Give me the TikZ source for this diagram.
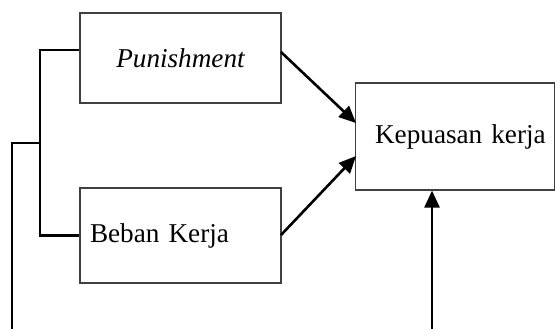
\documentclass[tikz,border=0pt]{standalone}
\usepackage{fontspec}
\setmainfont{Liberation Serif}
\usetikzlibrary{arrows.meta,calc}
\begin{document}
\begin{tikzpicture}[x=0.5pt,y=-0.5pt,
  box/.style={draw=black!75,line width=0.55pt,rectangle,inner sep=0pt,
    font=\fontsize{13.6}{16}\selectfont},
  link/.style={line width=1.1pt,black},
  arr/.style={line width=1.3pt,black,-{Triangle[length=8.5pt,width=7.5pt]}}]
\useasboundingbox (0,0) rectangle (556,329);
\node[box,minimum width=100.5pt,minimum height=45pt] (pun) at (180.5,58) {\itshape Punishment};
\node[box,minimum width=100.5pt,minimum height=47.5pt,text width=90.5pt,align=left,inner xsep=5pt] (bk) at (180.5,235.5) {Beban Kerja};
\node[box,minimum width=99.5pt,minimum height=53.5pt,text width=90.5pt,align=right,inner xsep=4.5pt] (kep) at (455.25,136.5) {Kepuasan kerja};
\coordinate (b1) at (40,50);
\coordinate (b2) at (40,235.5);
\coordinate (bm) at (40,143);
\coordinate (st) at (12,143);
\coordinate (sb) at (12,329);
\draw[link] (pun.west |- b1) -- (b1) -- (b2) -- (bk.west |- b2);
\draw[link] (bm) -- (st) -- (sb);
\coordinate (p1) at (281,52);
\coordinate (k1) at (356,123);
\coordinate (p2) at (281,235);
\coordinate (k2) at (356,156);
\draw[arr] (p1) -- (k1);
\draw[arr] (p2) -- (k2);
\coordinate (vb) at (432,329);
\draw[arr] (vb) -- (kep.south -| vb);
\end{tikzpicture}
\end{document}
